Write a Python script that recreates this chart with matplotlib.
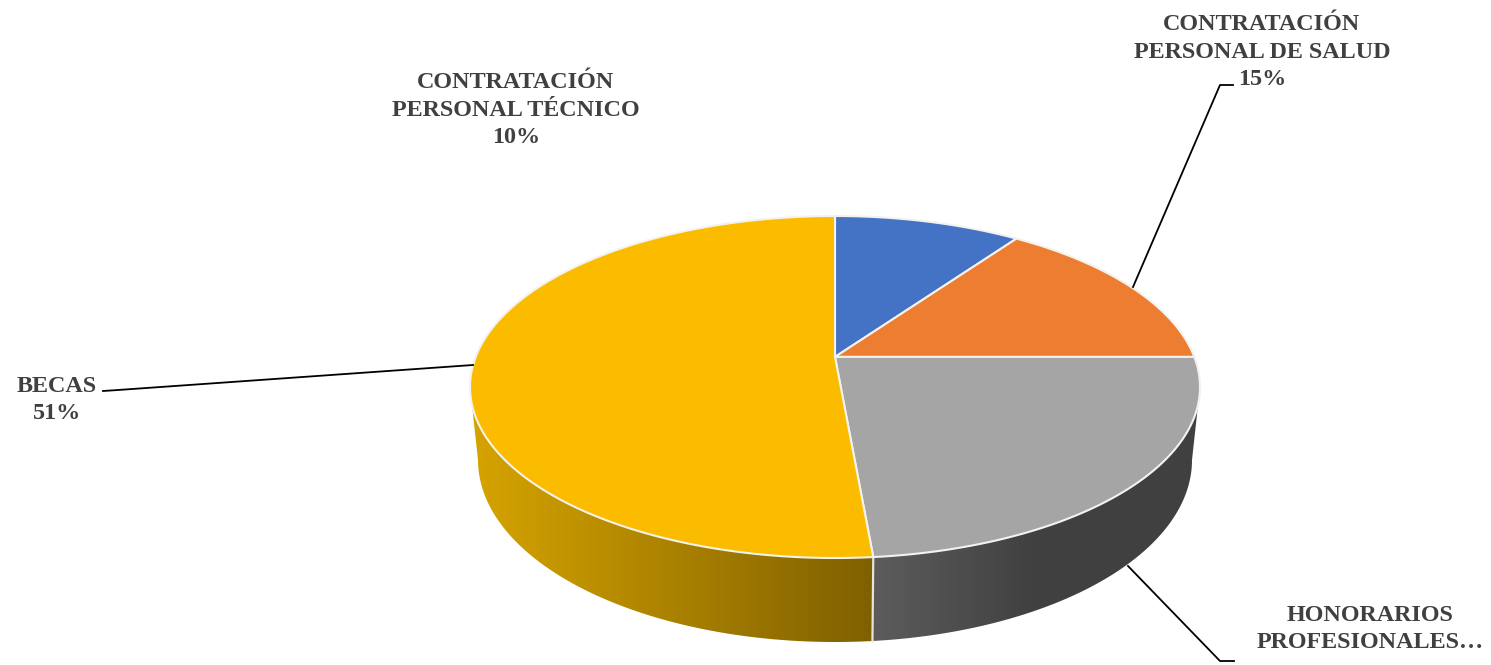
# plot.py - pastel 3D dibujado a mano (matplotlib no tiene pie 3D)
import numpy as np
import matplotlib
matplotlib.use("Agg")
import matplotlib.pyplot as plt
from matplotlib.colors import LinearSegmentedColormap
from matplotlib.patches import Polygon

# ---------- DATOS ----------
CATEGORIES = ["CONTRATACIÓN\nPERSONAL TÉCNICO", "CONTRATACIÓN\nPERSONAL DE SALUD",
              "HONORARIOS\nPROFESIONALES…", "BECAS"]
VALUES = [9.8, 15.2, 23.6, 51.4]
SHOW_PERCENT = [True, True, False, True]
COLORS = ["#4472C4", "#ED7D31", "#A5A5A5", "#FBBC00"]
SIDE_COLORS = [None, None, ("#5C5C5C", "#404040", "#404040"), ("#D6A400", "#7F6000")]

LABEL_XY = [(516, 110), (1262, 52), (1370, 629), (57, 400)]
LEADERS = [None,
           [(1233, 85), (1220, 85), (1133, 287)],
           [(1128, 566), (1220, 661), (1234, 661)],
           [(103, 391), (118, 390), (473, 365)]]
# ---------------------------

W, H = 1491, 665
TOP = dict(cx=835, cy=387, rx=365, ry=171)
BOTTOM = dict(cx=835, cy=460, rx=357, ry=182)
APEX_SHIFT = 0.176  # decalage du sommet (perspective)
RIGHT_TH = np.degrees(np.arccos(-APEX_SHIFT))  # angle du point le plus à droite
LEFT_TH = 360 - RIGHT_TH


def rim(theta, cx, cy, rx, ry):
    """Point du bord de l'ellipse pour un angle (deg, horaire depuis le haut)."""
    t = np.radians(theta)
    u, v = np.sin(t), np.cos(t)
    w = 1 + APEX_SHIFT * v
    xn = u * np.sqrt(1 - APEX_SHIFT ** 2) / w
    yn = (v + APEX_SHIFT) / w
    return np.column_stack([cx + rx * xn, cy - ry * yn])


fig = plt.figure(figsize=(W / 100, H / 100), dpi=100)
ax = fig.add_axes([0, 0, 1, 1])

bounds = np.concatenate([[0], np.cumsum(VALUES)]) / sum(VALUES) * 360
apex = (TOP["cx"], TOP["cy"] - APEX_SHIFT * TOP["ry"])
front_x = rim(np.array([bounds[3]]), **TOP)[0, 0]

# flancs avec dégradé (seulement la partie visible, entre les extrêmes gauche/droite)
for i, side in enumerate(SIDE_COLORS):
    if side is None:
        continue
    th = np.linspace(max(bounds[i], RIGHT_TH), min(bounds[i + 1], LEFT_TH), 200)
    pts = np.vstack([rim(th, **TOP), rim(th[::-1], **BOTTOM)])
    poly = Polygon(pts, closed=True, facecolor="none", edgecolor="none")
    ax.add_patch(poly)
    cmap = LinearSegmentedColormap.from_list("side", side)
    x0, x1 = (pts[:, 0].min(), front_x) if i == 3 else (front_x, pts[:, 0].max())
    im = ax.imshow(np.linspace(0, 1, 256)[None, :], cmap=cmap, aspect="auto",
                   extent=(x0, x1, 660, 200), zorder=1)
    im.set_clip_path(poly)

# séparation entre les deux flancs visibles
sep = rim(np.array([bounds[3]]), **TOP)[0], rim(np.array([bounds[3]]), **BOTTOM)[0]
ax.plot([sep[0][0], sep[1][0]], [sep[0][1], sep[1][1]], color="#E8E4D8", lw=1.6, zorder=2)

# dessus
for i in range(len(VALUES)):
    th = np.linspace(bounds[i], bounds[i + 1], 200)
    pts = np.vstack([[apex], rim(th, **TOP)])
    ax.add_patch(Polygon(pts, closed=True, facecolor=COLORS[i], edgecolor="#F4F2EC",
                         lw=1.5, joinstyle="round", zorder=3))

# étiquettes
for name, val, show, xy in zip(CATEGORIES, VALUES, SHOW_PERCENT, LABEL_XY):
    txt = f"{name}\n{round(val)}%" if show else name
    ax.text(xy[0], xy[1], txt, ha="center", va="center", family="Liberation Serif",
            weight="bold", fontsize=17.4, color="#404040", linespacing=1.42, zorder=5)

for line in LEADERS:
    if line is not None:
        xs, ys = zip(*line)
        ax.plot(xs, ys, color="black", lw=1.3, zorder=4)

ax.set_xlim(0, W)
ax.set_ylim(H, 0)
ax.axis("off")
fig.savefig("out.png", dpi=100, facecolor="white")
